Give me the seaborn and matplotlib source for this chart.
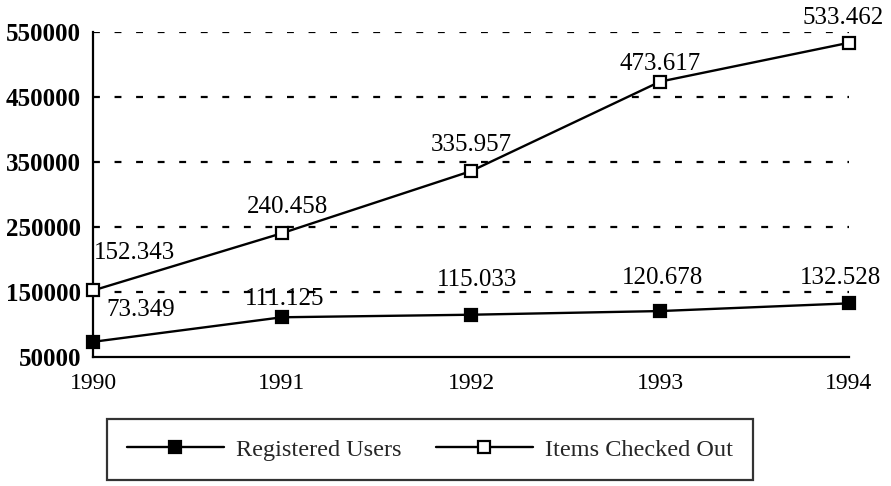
import matplotlib
matplotlib.use("Agg")
import matplotlib.pyplot as plt
import seaborn as sns
import pandas as pd

years = [1990, 1991, 1992, 1993, 1994]
registered_users = [73349, 111125, 115033, 120678, 132528]
items_checked_out = [152343, 240458, 335957, 473617, 533462]
series_names = ["Registered Users", "Items Checked Out"]
y_ticks = [50000, 150000, 250000, 350000, 450000, 550000]

sns.set_theme(style="white")
plt.rcParams['font.family'] = ['Liberation Serif', 'DejaVu Serif']

df = pd.DataFrame({
    "year": years * 2,
    "value": registered_users + items_checked_out,
    "series": [series_names[0]] * 5 + [series_names[1]] * 5,
})

fig = plt.figure(figsize=(8.91, 4.86), dpi=100)
ax = fig.add_axes([93/891, 1 - 357/486, (849 - 93)/891, (357 - 32)/486])

for name, face in zip(series_names, ["black", "white"]):
    sub = df[df["series"] == name]
    sns.lineplot(data=sub, x="year", y="value", ax=ax, color="black",
                 linewidth=1.7, marker="s", markersize=8,
                 markerfacecolor=face, markeredgecolor="black",
                 markeredgewidth=1.6, label=name, zorder=3)
for ln in ax.lines:
    ln.set_clip_on(False)

ax.set_xlim(years[0], years[-1])
ax.set_ylim(y_ticks[0], y_ticks[-1])
ax.set_xticks(years)
ax.set_yticks(y_ticks)
ax.set_xticklabels([str(y) for y in years], fontsize=17)
ax.set_yticklabels([str(v) for v in y_ticks], fontsize=18, fontweight="bold")
ax.set_xlabel("")
ax.set_ylabel("")

for v in y_ticks[1:]:
    ax.axhline(v, color="black", linewidth=1.6, linestyle=(0, (3.1, 6.6)), zorder=1)

for s in ["top", "right"]:
    ax.spines[s].set_visible(False)
for s in ["left", "bottom"]:
    ax.spines[s].set_color("black")
    ax.spines[s].set_linewidth(1.6)
ax.tick_params(axis="both", direction="inout", length=7, width=1.5,
               colors="black")
ax.tick_params(axis="y", pad=5)
ax.tick_params(axis="x", pad=8)

def fmt(v):
    return f"{v:,}".replace(",", ".")

reg_off = [(34, 23), (2, 13), (4, 25), (2, 24), (-6, 18)]
item_off = [(30, 27), (4, 19), (0, 19), (0, 13), (-4, 18)]
for vals, offs in [(registered_users, reg_off), (items_checked_out, item_off)]:
    for x, v, o in zip(years, vals, offs):
        ax.annotate(fmt(v), (x, v), xytext=o, textcoords="offset points",
                    ha="center", va="center", fontsize=18, color="black",
                    annotation_clip=False)

leg = ax.legend(loc="center", bbox_to_anchor=(430/891, 1 - 449.5/486),
                bbox_transform=fig.transFigure, ncol=2, frameon=True,
                fancybox=False, edgecolor="black", fontsize=17.5,
                handlelength=4, handletextpad=0.5, columnspacing=1.4,
                borderpad=0.8)
leg.get_frame().set_linewidth(1.6)

fig.savefig("out.png", dpi=100)
